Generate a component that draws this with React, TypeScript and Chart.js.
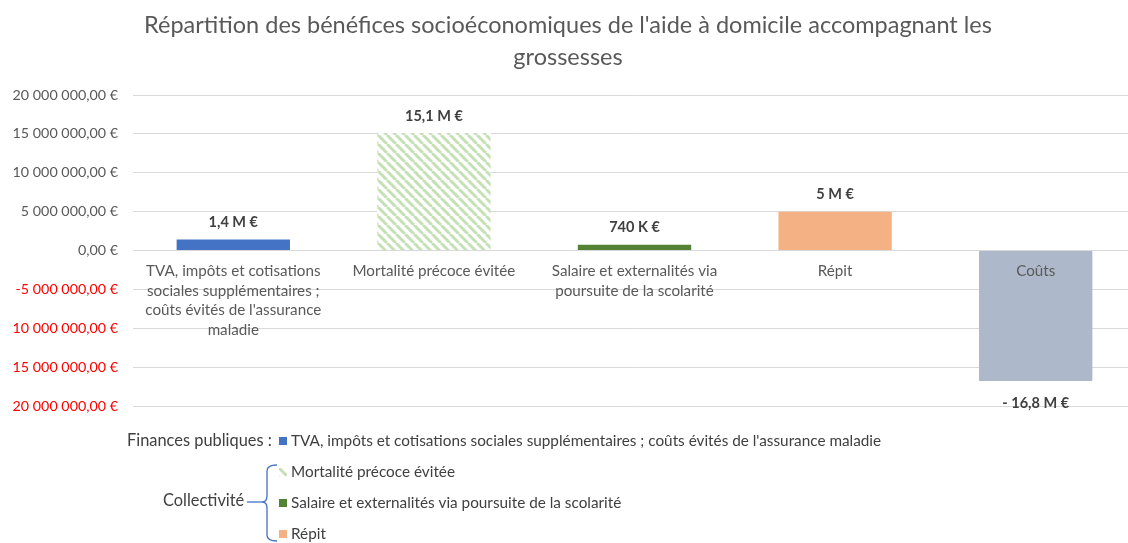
import React, { useEffect, useRef } from "react";
import { Chart, registerables } from "chart.js";

Chart.register(...registerables);

const TITLE = [
  "Répartition des bénéfices socioéconomiques de l'aide à domicile accompagnant les",
  "grossesses",
];

const CATEGORIES = [
  ["TVA, impôts et cotisations", "sociales supplémentaires ;", "coûts évités de l'assurance", "maladie"],
  ["Mortalité précoce évitée"],
  ["Salaire et externalités via", "poursuite de la scolarité"],
  ["Répit"],
  ["Coûts"],
];

const VALUES = [1400000, 15100000, 740000, 5000000, -16800000];
const VALUE_LABELS = ["1,4 M €", "15,1 M €", "740 K €", "5 M €", "- 16,8 M €"];

const Y_TICK_VALUES = [-20000000, -15000000, -10000000, -5000000, 0, 5000000, 10000000, 15000000, 20000000];
const Y_TICK_LABELS = [
  "20 000 000,00 €",
  "15 000 000,00 €",
  "10 000 000,00 €",
  "-5 000 000,00 €",
  "0,00 €",
  "5 000 000,00 €",
  "10 000 000,00 €",
  "15 000 000,00 €",
  "20 000 000,00 €",
];

const LEGEND_GROUP_PUBLIC = "Finances publiques :";
const LEGEND_GROUP_COLLECTIVE = "Collectivité";
const LEGEND_PUBLIC_ITEM = "TVA, impôts et cotisations sociales supplémentaires ; coûts évités de l'assurance maladie";
const LEGEND_COLLECTIVE_ITEMS = [
  "Mortalité précoce évitée",
  "Salaire et externalités via poursuite de la scolarité",
  "Répit",
];

const BLUE = "#4472C4";
const HATCH_GREEN = "#C5E0B4";
const GREEN = "#548235";
const ORANGE = "#F4B183";
const GREY_BAR = "#ADB9CA";
const FONT = "Lato, 'Open Sans', sans-serif";

function makeHatch(): CanvasPattern | string {
  const size = 9;
  const pc = document.createElement("canvas");
  pc.width = size;
  pc.height = size;
  const p = pc.getContext("2d");
  if (!p) return HATCH_GREEN;
  p.fillStyle = "#ffffff";
  p.fillRect(0, 0, size, size);
  p.strokeStyle = HATCH_GREEN;
  p.lineWidth = 3;
  for (const x0 of [-size, 0, size]) {
    p.beginPath();
    p.moveTo(x0, 0);
    p.lineTo(x0 + size, size);
    p.stroke();
  }
  const pat = p.createPattern(pc, "repeat");
  return pat || HATCH_GREEN;
}

export default function App() {
  const ref = useRef<HTMLCanvasElement | null>(null);

  useEffect(() => {
    document.body.style.margin = "0";
    const canvas = ref.current;
    if (!canvas) return;
    const hatch = makeHatch();
    const colors = [BLUE, hatch, GREEN, ORANGE, GREY_BAR];

    const labelsPlugin = {
      id: "valueLabels",
      afterDatasetsDraw(chart: any) {
        const ctx = chart.ctx;
        const meta = chart.getDatasetMeta(0);
        ctx.save();
        ctx.font = `bold 14.5px ${FONT}`;
        ctx.fillStyle = "#404040";
        ctx.textAlign = "center";
        ctx.textBaseline = "middle";
        meta.data.forEach((bar: any, i: number) => {
          const v = VALUES[i];
          const top = Math.min(bar.y, bar.base);
          const bottom = Math.max(bar.y, bar.base);
          const y = v >= 0 ? top - 17 : bottom + 22;
          ctx.fillText(VALUE_LABELS[i], bar.x, y);
        });
        ctx.restore();
      },
    };

    const legendPlugin = {
      id: "customLegend",
      afterDraw(chart: any) {
        const ctx = chart.ctx;
        ctx.save();
        ctx.textBaseline = "middle";
        ctx.textAlign = "left";
        ctx.fillStyle = "#404040";
        // public finances group
        ctx.font = `16.4px ${FONT}`;
        ctx.fillText(LEGEND_GROUP_PUBLIC, 127, 441);
        ctx.fillStyle = BLUE;
        ctx.fillRect(279, 437, 8, 8);
        ctx.fillStyle = "#404040";
        ctx.font = `15.3px ${FONT}`;
        ctx.fillText(LEGEND_PUBLIC_ITEM, 291, 441);

        // collective group
        ctx.font = `16.4px ${FONT}`;
        ctx.fillText(LEGEND_GROUP_COLLECTIVE, 163, 501);
        ctx.strokeStyle = BLUE;
        ctx.lineWidth = 1.3;
        ctx.beginPath();
        ctx.moveTo(247, 502);
        ctx.lineTo(262, 502);
        ctx.stroke();
        // curly brace
        ctx.beginPath();
        ctx.moveTo(277, 465);
        ctx.quadraticCurveTo(267, 465, 267, 471);
        ctx.lineTo(267, 496);
        ctx.quadraticCurveTo(267, 502, 262, 502);
        ctx.quadraticCurveTo(267, 502, 267, 508);
        ctx.lineTo(267, 535);
        ctx.quadraticCurveTo(267, 541, 277, 541);
        ctx.stroke();

        ctx.font = `15.3px ${FONT}`;
        const itemColors = [hatch, GREEN, ORANGE];
        const ys = [472, 503, 534];
        LEGEND_COLLECTIVE_ITEMS.forEach((t, i) => {
          ctx.fillStyle = itemColors[i] as any;
          ctx.fillRect(279, ys[i] - 4, 8, 8);
          ctx.fillStyle = "#404040";
          ctx.fillText(t, 291, ys[i]);
        });
        ctx.restore();
      },
    };

    const chart = new Chart(canvas, {
      type: "bar",
      data: {
        labels: CATEGORIES as any,
        datasets: [
          {
            data: VALUES,
            backgroundColor: colors as any,
            borderWidth: 0,
            barPercentage: 0.565,
            categoryPercentage: 1,
          },
        ],
      },
      options: {
        responsive: false,
        maintainAspectRatio: false,
        animation: false,
        layout: { padding: { top: 0, left: 0, right: 0, bottom: 137 } },
        plugins: {
          legend: { display: false },
          tooltip: { enabled: false },
          title: {
            display: true,
            text: TITLE,
            color: "#595959",
            font: { family: FONT, size: 23.5, weight: "normal", lineHeight: 32 / 23.5 },
            padding: { top: 9, bottom: 22 },
          },
        },
        scales: {
          x: {
            type: "category",
            position: { y: 0 } as any,
            offset: true,
            grid: { display: false, drawTicks: false },
            border: { display: false },
            ticks: {
              z: 1,
              color: "#595959",
              font: { family: FONT, size: 15.2, lineHeight: 19.5 / 15.2 },
              padding: 11,
              maxRotation: 0,
              minRotation: 0,
              autoSkip: false,
            },
          } as any,
          y: {
            min: -20000000,
            max: 20000000,
            grid: { color: "#d9d9d9", drawTicks: false },
            border: { display: false },
            afterFit: (s: any) => {
              s.width = 133;
            },
            ticks: {
              stepSize: 5000000,
              padding: 15,
              font: { family: FONT, size: 14.3 },
              color: (c: any) => (c.tick && c.tick.value < 0 ? "#ff0000" : "#595959"),
              callback: (v: any) => {
                const idx = Y_TICK_VALUES.indexOf(Number(v));
                return idx >= 0 ? Y_TICK_LABELS[idx] : "";
              },
            },
          },
        },
      },
      plugins: [labelsPlugin, legendPlugin],
    });

    return () => chart.destroy();
  }, []);

  return (
    <div style={{ width: 1128, height: 543, overflow: "hidden", position: "relative", background: "#fff" }}>
      <canvas ref={ref} width={1136} height={543} style={{ display: "block", width: 1136, height: 543 }} />
    </div>
  );
}
